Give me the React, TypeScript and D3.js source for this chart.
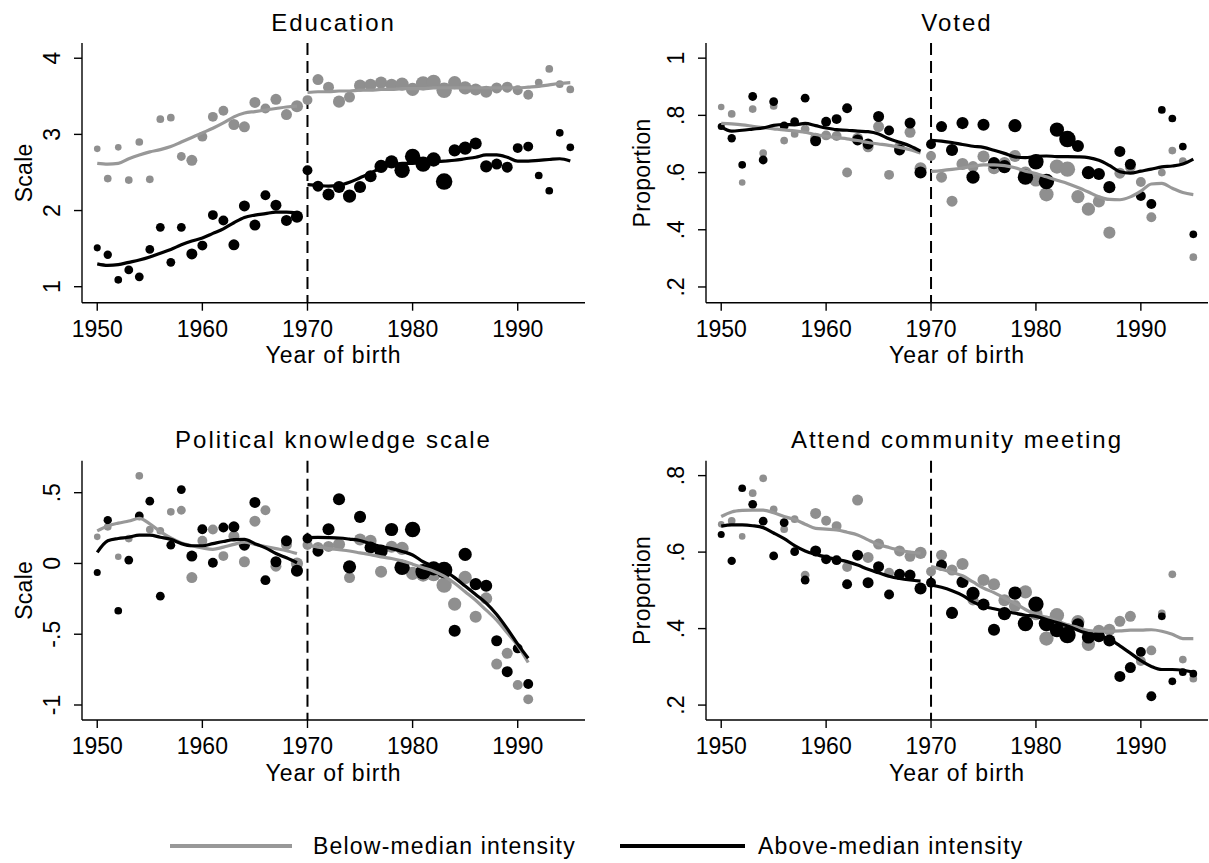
import React from "react";
import * as d3 from "d3";

// ---------- DATA ----------
const YEARS = [1950,1951,1952,1953,1954,1955,1956,1957,1958,1959,1960,1961,1962,1963,1964,1965,1966,1967,1968,1969,1970,1971,1972,1973,1974,1975,1976,1977,1978,1979,1980,1981,1982,1983,1984,1985,1986,1987,1988,1989,1990,1991,1992,1993,1994,1995];
const YEARS_PRE = [1950,1951,1952,1953,1954,1955,1956,1957,1958,1959,1960,1961,1962,1963,1964,1965,1966,1967,1968,1969];
const YEARS_POST = [1970,1971,1972,1973,1974,1975,1976,1977,1978,1979,1980,1981,1982,1983,1984,1985,1986,1987,1988,1989,1990,1991,1992,1993,1994,1995];
const X_TICKS = [1950, 1960, 1970, 1980, 1990];
const CUTOFF = 1970;

// marker radius by cohort (cell size)
const blackR = [3.2,3.8,3.5,4,4,4,4,4,4,5, 4.5,4.5,4.5,5,5,5,4.5,5,5,5.5, 4.5,5,5.5,5.5,6,5.5,5.5,6,6,7, 7,7,6.5,7.5,5.5,6,5.5,5.5,5,5, 4.5,4.5,3.5,3.5,3.5,3.5];
const grayR = [3,3.5,3,3.5,3.5,3.5,3.5,3.5,4,5, 4.5,4.5,4.5,5,5,5,4.5,5,5,5.5, 4.5,5,5,5.5,5,5.5,5.5,5.5,5.5,6, 6,6.5,6.5,7,6,6,5.5,5.5,5,5, 4.5,4.5,3.5,3.5,3.5,3.5];

// Education
const eduGray = [2.81,2.42,2.83,2.40,2.90,2.41,3.20,3.22,2.71,2.66, 2.97,3.23,3.31,3.13,3.10,3.42,3.34,3.46,3.26,3.37, 3.45,3.72,3.62,3.43,3.49,3.64,3.65,3.68,3.65,3.66, 3.59,3.67,3.69,3.58,3.68,3.61,3.59,3.56,3.61,3.62, 3.58,3.52,3.68,3.86,3.66,3.59];
const eduBlack = [1.51,1.42,1.09,1.22,1.13,1.49,1.78,1.32,1.78,1.43, 1.54,1.94,1.87,1.55,2.06,1.81,2.20,2.07,1.87,1.92, 2.53,2.32,2.21,2.31,2.19,2.31,2.45,2.58,2.64,2.53, 2.71,2.61,2.67,2.38,2.79,2.82,2.88,2.58,2.61,2.57, 2.82,2.84,2.46,2.26,3.02,2.83];
const eduGrayFitPre = [2.62,2.61,2.62,2.68,2.73,2.77,2.80,2.84,2.90,2.96,3.02,3.08,3.15,3.23,3.28,3.30,3.32,3.34,3.36,3.37];
const eduGrayFitPost = [3.55,3.56,3.56,3.57,3.57,3.58,3.58,3.59,3.59,3.60,3.60,3.60,3.61,3.61,3.61,3.61,3.61,3.61,3.61,3.61,3.61,3.62,3.63,3.65,3.67,3.68];
const eduBlackFitPre = [1.30,1.28,1.29,1.32,1.35,1.39,1.44,1.49,1.55,1.60,1.64,1.70,1.76,1.84,1.91,1.94,1.96,1.98,1.98,1.97];
const eduBlackFitPost = [2.34,2.33,2.32,2.33,2.37,2.43,2.49,2.56,2.60,2.62,2.62,2.63,2.64,2.65,2.66,2.68,2.70,2.73,2.73,2.70,2.65,2.65,2.66,2.67,2.68,2.65];

// Voted
const votGray = [0.829,0.805,0.565,0.822,0.668,0.833,0.712,0.735,0.752,0.72, 0.73,0.728,0.600,0.72,0.69,0.761,0.592,0.69,0.741,0.615, 0.658,0.584,0.50,0.63,0.621,0.656,0.615,0.633,0.658,0.598, 0.574,0.524,0.621,0.612,0.516,0.472,0.499,0.39,0.598,0.62, 0.567,0.444,0.60,0.677,0.64,0.304];
const votBlack = [0.761,0.72,0.627,0.866,0.644,0.848,0.763,0.778,0.86,0.711, 0.778,0.787,0.825,0.714,0.70,0.796,0.747,0.679,0.773,0.60, 0.699,0.761,0.679,0.773,0.584,0.767,0.633,0.621,0.764,0.584, 0.638,0.569,0.75,0.717,0.693,0.60,0.595,0.549,0.674,0.629, 0.518,0.49,0.819,0.789,0.691,0.384];
const votGrayFitPre = [0.772,0.77,0.767,0.762,0.757,0.753,0.749,0.746,0.741,0.733,0.727,0.722,0.718,0.712,0.705,0.70,0.695,0.688,0.68,0.668];
const votGrayFitPost = [0.604,0.607,0.611,0.616,0.622,0.627,0.627,0.624,0.617,0.605,0.597,0.585,0.573,0.562,0.548,0.532,0.515,0.506,0.505,0.515,0.535,0.56,0.562,0.545,0.53,0.523];
const votBlackFitPre = [0.76,0.745,0.748,0.752,0.756,0.765,0.768,0.767,0.772,0.764,0.756,0.75,0.748,0.745,0.743,0.735,0.718,0.706,0.693,0.675];
const votBlackFitPost = [0.713,0.71,0.705,0.698,0.692,0.688,0.678,0.667,0.655,0.652,0.657,0.658,0.656,0.656,0.655,0.652,0.643,0.625,0.603,0.598,0.605,0.612,0.62,0.623,0.63,0.647];

// Political knowledge scale (1950-1991)
const knGray = [0.188,0.259,0.047,0.176,0.619,0.24,0.231,0.365,0.376,-0.10, 0.16,0.24,0.052,0.193,0.012,0.299,0.376,-0.019,0.134,0.0, 0.13,0.113,0.12,0.136,-0.10,0.169,0.16,-0.059,0.118,0.106, -0.07,-0.078,-0.075,-0.153,-0.287,-0.099,-0.376,-0.247,-0.711,-0.635, -0.859,-0.96];
const knBlack = [-0.064,0.306,-0.334,0.024,0.336,0.44,-0.231,0.129,0.522,0.052, 0.242,0.005,0.254,0.259,0.129,0.431,-0.118,0.012,0.16,-0.052, 0.176,0.087,0.242,0.454,-0.024,0.329,0.113,0.087,0.24,-0.028, 0.24,-0.059,-0.035,-0.047,-0.475,0.064,-0.146,-0.158,-0.546,-0.765, -0.6,-0.852];
const knGrayFitPre = [0.23,0.265,0.285,0.30,0.318,0.28,0.225,0.18,0.145,0.125,0.11,0.10,0.115,0.135,0.15,0.135,0.12,0.105,0.09,0.07];
const knGrayFitPost = [0.13,0.115,0.105,0.097,0.088,0.075,0.062,0.047,0.035,0.018,-0.005,-0.03,-0.055,-0.09,-0.14,-0.2,-0.26,-0.33,-0.4,-0.49,-0.58,-0.70];
const knBlackFitPre = [0.078,0.16,0.176,0.185,0.2,0.2,0.185,0.17,0.14,0.125,0.125,0.14,0.155,0.168,0.17,0.14,0.11,0.07,0.04,0.005];
const knBlackFitPost = [0.183,0.184,0.183,0.18,0.172,0.162,0.14,0.12,0.105,0.085,0.06,0.012,-0.02,-0.05,-0.1,-0.16,-0.22,-0.28,-0.36,-0.46,-0.57,-0.67];

// Attend community meeting
const cmGray = [0.673,0.682,0.641,0.754,0.793,0.712,0.66,0.686,0.54,0.701, 0.682,0.668,0.561,0.736,0.586,0.621,0.546,0.603,0.589,0.598, 0.549,0.592,0.553,0.569,0.475,0.527,0.516,0.474,0.459,0.496, 0.439,0.374,0.435,0.394,0.418,0.359,0.394,0.397,0.419,0.432, 0.315,0.343,0.44,0.542,0.319,0.269];
const cmBlack = [0.646,0.577,0.767,0.725,0.681,0.59,0.677,0.601,0.527,0.603, 0.581,0.579,0.516,0.592,0.52,0.562,0.489,0.542,0.54,0.505, 0.52,0.566,0.441,0.522,0.492,0.463,0.397,0.439,0.493,0.413, 0.464,0.413,0.396,0.383,0.411,0.378,0.38,0.369,0.275,0.298, 0.339,0.223,0.432,0.262,0.286,0.282];
const cmGrayFitPre = [0.693,0.705,0.709,0.71,0.71,0.703,0.693,0.685,0.673,0.662,0.66,0.658,0.652,0.645,0.632,0.62,0.612,0.605,0.6,0.597];
const cmGrayFitPost = [0.562,0.555,0.547,0.538,0.522,0.506,0.494,0.48,0.466,0.45,0.437,0.43,0.42,0.41,0.403,0.395,0.393,0.393,0.394,0.396,0.396,0.397,0.393,0.385,0.374,0.374];
const cmBlackFitPre = [0.668,0.671,0.671,0.669,0.664,0.65,0.635,0.617,0.603,0.594,0.587,0.581,0.575,0.566,0.555,0.546,0.537,0.531,0.527,0.524];
const cmBlackFitPost = [0.514,0.508,0.499,0.487,0.47,0.458,0.452,0.446,0.44,0.435,0.432,0.424,0.416,0.407,0.396,0.387,0.382,0.372,0.355,0.336,0.316,0.301,0.293,0.293,0.291,0.286];

const LEGEND_LABELS = ["Below-median intensity", "Above-median intensity"];

// ---------- STYLE ----------
const FONT = "'Liberation Sans', Arial, Helvetica, sans-serif";
const GRAY_PT = "#8f8f8f";
const GRAY_LN = "#989898";
const BLACK = "#000000";
const R_SCALE = 1.1;

type PanelSpec = {
  title: string;
  yTitle: string;
  yTitleX: number;
  left: number; right: number; top: number; bottom: number;
  yDomain: [number, number];
  yTicks: number[];
  yTickLabels: string[];
  gray: number[]; black: number[];
  grayPre: number[]; grayPost: number[];
  blackPre: number[]; blackPost: number[];
};

const panels: PanelSpec[] = [
  {
    title: "Education", yTitle: "Scale", yTitleX: 32,
    left: 82, right: 585, top: 43, bottom: 302.7,
    yDomain: [0.79, 4.2], yTicks: [1, 2, 3, 4], yTickLabels: ["1", "2", "3", "4"],
    gray: eduGray, black: eduBlack,
    grayPre: eduGrayFitPre, grayPost: eduGrayFitPost,
    blackPre: eduBlackFitPre, blackPost: eduBlackFitPost,
  },
  {
    title: "Voted", yTitle: "Proportion", yTitleX: 650,
    left: 706, right: 1208, top: 43, bottom: 302.7,
    yDomain: [0.145, 1.053], yTicks: [0.2, 0.4, 0.6, 0.8, 1], yTickLabels: [".2", ".4", ".6", ".8", "1"],
    gray: votGray, black: votBlack,
    grayPre: votGrayFitPre, grayPost: votGrayFitPost,
    blackPre: votBlackFitPre, blackPost: votBlackFitPost,
  },
  {
    title: "Political knowledge scale", yTitle: "Scale", yTitleX: 32,
    left: 82, right: 585, top: 460.7, bottom: 720,
    yDomain: [-1.106, 0.726], yTicks: [-1, -0.5, 0, 0.5], yTickLabels: ["-1", "-.5", "0", ".5"],
    gray: knGray, black: knBlack,
    grayPre: knGrayFitPre, grayPost: knGrayFitPost,
    blackPre: knBlackFitPre, blackPost: knBlackFitPost,
  },
  {
    title: "Attend community meeting", yTitle: "Proportion", yTitleX: 650,
    left: 706, right: 1208, top: 460.7, bottom: 720,
    yDomain: [0.161, 0.839], yTicks: [0.2, 0.4, 0.6, 0.8], yTickLabels: [".2", ".4", ".6", ".8"],
    gray: cmGray, black: cmBlack,
    grayPre: cmGrayFitPre, grayPost: cmGrayFitPost,
    blackPre: cmBlackFitPre, blackPost: cmBlackFitPost,
  },
];

function Panel({ p }: { p: PanelSpec }) {
  const x = d3.scaleLinear().domain([1948.55, 1996.4]).range([p.left, p.right]);
  const y = d3.scaleLinear().domain(p.yDomain).range([p.bottom, p.top]);
  const line = d3
    .line<[number, number]>()
    .x((d) => x(d[0]))
    .y((d) => y(d[1]))
    .curve(d3.curveMonotoneX);
  const zip = (yrs: number[], vals: number[]) =>
    vals.map((v, i) => [yrs[i], v] as [number, number]);
  const cx = (p.left + p.right) / 2;
  const cy = (p.top + p.bottom) / 2;
  const tickLen = 8;

  return (
    <g>
      {/* title */}
      <text x={cx} y={p.top - 12.5} textAnchor="middle" fontSize={24} letterSpacing={2} fontFamily={FONT} fill="#000">
        {p.title}
      </text>
      {/* cutoff line */}
      <line x1={x(CUTOFF)} x2={x(CUTOFF)} y1={p.top} y2={p.bottom} stroke="#000" strokeWidth={2} strokeDasharray="12,6" />
      {/* points */}
      {p.gray.map((v, i) => (
        <circle key={"g" + i} cx={x(YEARS[i])} cy={y(v)} r={grayR[i] * R_SCALE} fill={GRAY_PT} />
      ))}
      {p.black.map((v, i) => (
        <circle key={"b" + i} cx={x(YEARS[i])} cy={y(v)} r={blackR[i] * R_SCALE} fill={BLACK} />
      ))}
      {/* fitted lines */}
      <path d={line(zip(YEARS_PRE, p.grayPre)) || ""} fill="none" stroke={GRAY_LN} strokeWidth={3.2} />
      <path d={line(zip(YEARS_POST, p.grayPost)) || ""} fill="none" stroke={GRAY_LN} strokeWidth={3.2} />
      <path d={line(zip(YEARS_PRE, p.blackPre)) || ""} fill="none" stroke={BLACK} strokeWidth={3.2} />
      <path d={line(zip(YEARS_POST, p.blackPost)) || ""} fill="none" stroke={BLACK} strokeWidth={3.2} />
      {/* axes */}
      <line x1={p.left} x2={p.left} y1={p.top} y2={p.bottom} stroke="#000" strokeWidth={1.4} />
      <line x1={p.left} x2={p.right} y1={p.bottom} y2={p.bottom} stroke="#000" strokeWidth={1.4} />
      {p.yTicks.map((t, i) => (
        <g key={"yt" + i}>
          <line x1={p.left - tickLen} x2={p.left} y1={y(t)} y2={y(t)} stroke="#000" strokeWidth={1.4} />
          <text
            transform={`translate(${p.left - 22},${y(t)}) rotate(-90)`}
            textAnchor="middle"
            fontSize={23}
            fontFamily={FONT}
            fill="#000"
          >
            {p.yTickLabels[i]}
          </text>
        </g>
      ))}
      {X_TICKS.map((t) => (
        <g key={"xt" + t}>
          <line x1={x(t)} x2={x(t)} y1={p.bottom} y2={p.bottom + tickLen} stroke="#000" strokeWidth={1.4} />
          <text x={x(t)} y={p.bottom + 34} textAnchor="middle" fontSize={23} fontFamily={FONT} fill="#000">
            {t}
          </text>
        </g>
      ))}
      <text x={cx} y={p.bottom + 60.5} textAnchor="middle" fontSize={23} letterSpacing={1} fontFamily={FONT} fill="#000">
        Year of birth
      </text>
      <text
        transform={`translate(${p.yTitleX},${cy}) rotate(-90)`}
        textAnchor="middle"
        fontSize={23}
        letterSpacing={0.3}
        fontFamily={FONT}
        fill="#000"
      >
        {p.yTitle}
      </text>
    </g>
  );
}

export default function App() {
  const legendY = 846;
  const legendItems = [
    { x1: 170, x2: 292, tx: 313, color: GRAY_LN, label: LEGEND_LABELS[0] },
    { x1: 620, x2: 745, tx: 758, color: BLACK, label: LEGEND_LABELS[1] },
  ];
  return (
    <svg
      width={1209}
      height={863}
      style={{ position: "absolute", left: 0, top: 0, background: "#fff" }}
    >
      <rect x={0} y={0} width={1209} height={863} fill="#fff" />
      {panels.map((p, i) => (
        <Panel key={i} p={p} />
      ))}
      {legendItems.map((it, i) => (
        <g key={"lg" + i}>
          <line x1={it.x1} x2={it.x2} y1={legendY} y2={legendY} stroke={it.color} strokeWidth={4} />
          <text x={it.tx} y={legendY + 7.5} fontSize={23} letterSpacing={1.2} fontFamily={FONT} fill="#000">
            {it.label}
          </text>
        </g>
      ))}
    </svg>
  );
}
